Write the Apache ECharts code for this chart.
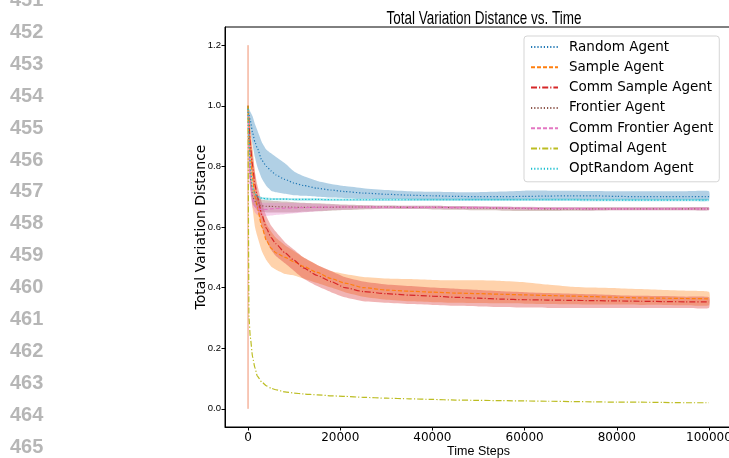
<!DOCTYPE html>
<html>
<head>
<meta charset="utf-8">
<script src="https://cdn.jsdelivr.net/npm/echarts@6/dist/echarts.min.js"></script>
<style>
  html, body { margin: 0; padding: 0; background: #fff; }
  #chart { width: 729px; height: 458px; }
</style>
</head>
<body>
<div id="chart"></div>
<script>
// page line numbers printed down the left margin
const lineNumbers = ['451', '452', '453', '454', '455', '456', '457', '458', '459', '460', '461', '462', '463', '464', '465']

const xTicks = [0, 20000, 40000, 60000, 80000, 100000]
const yTicks = [0, 0.2, 0.4, 0.6, 0.8, 1.0, 1.2]

const steps = [0, 200, 500, 1000, 1500, 2000, 3000, 4000, 5000, 6000, 8000, 10000, 12000, 15000, 18000, 21000,
  25000, 30000, 35000, 40000, 45000, 50000, 55000, 60000, 65000, 70000, 75000, 80000, 85000, 90000, 95000, 100000]

const randomMean = [0.99, 0.97, 0.95, 0.91, 0.88, 0.86, 0.82, 0.80, 0.785, 0.772, 0.757, 0.745, 0.737, 0.728, 0.722, 0.717,
  0.712, 0.708, 0.705, 0.703, 0.701, 0.700, 0.700, 0.701, 0.702, 0.703, 0.703, 0.701, 0.700, 0.700, 0.700, 0.700]
const randomUpper = [1.0, 0.99, 0.98, 0.965, 0.94, 0.92, 0.88, 0.855, 0.843, 0.832, 0.81, 0.783, 0.768, 0.752, 0.742, 0.735,
  0.728, 0.722, 0.718, 0.716, 0.715, 0.715, 0.717, 0.72, 0.72, 0.72, 0.719, 0.718, 0.718, 0.718, 0.718, 0.718]
const randomLower = [0.98, 0.95, 0.92, 0.87, 0.83, 0.80, 0.76, 0.735, 0.72, 0.715, 0.71, 0.705, 0.703, 0.70, 0.697, 0.695,
  0.693, 0.692, 0.691, 0.69, 0.69, 0.689, 0.689, 0.69, 0.69, 0.69, 0.69, 0.69, 0.69, 0.69, 0.69, 0.69]

const sampleMean = [1.0, 0.93, 0.84, 0.76, 0.70, 0.665, 0.60, 0.555, 0.53, 0.515, 0.50, 0.485, 0.47, 0.45, 0.43, 0.415,
  0.40, 0.392, 0.388, 0.385, 0.382, 0.38, 0.378, 0.376, 0.374, 0.372, 0.37, 0.368, 0.366, 0.365, 0.364, 0.363]
const sampleUpper = [1.0, 0.99, 0.93, 0.86, 0.78, 0.72, 0.65, 0.61, 0.585, 0.565, 0.54, 0.52, 0.50, 0.475, 0.455, 0.445,
  0.435, 0.43, 0.428, 0.425, 0.424, 0.424, 0.422, 0.418, 0.41, 0.403, 0.40, 0.398, 0.395, 0.392, 0.39, 0.386]
const sampleLower = [1.0, 0.87, 0.75, 0.66, 0.60, 0.57, 0.52, 0.49, 0.47, 0.46, 0.445, 0.44, 0.43, 0.415, 0.40, 0.385,
  0.37, 0.36, 0.355, 0.352, 0.35, 0.349, 0.348, 0.347, 0.346, 0.345, 0.344, 0.344, 0.343, 0.343, 0.342, 0.342]
// spread of the sample runs at step 0
const sampleStart = [0.0, 1.2]

const commSampleMean = [1.0, 0.94, 0.87, 0.80, 0.74, 0.70, 0.64, 0.595, 0.565, 0.545, 0.515, 0.49, 0.465, 0.44, 0.42, 0.40,
  0.387, 0.38, 0.375, 0.372, 0.368, 0.365, 0.362, 0.36, 0.359, 0.358, 0.357, 0.356, 0.355, 0.354, 0.353, 0.353]
const commSampleUpper = [1.0, 0.97, 0.91, 0.84, 0.78, 0.74, 0.68, 0.635, 0.605, 0.585, 0.55, 0.525, 0.50, 0.475, 0.455, 0.435,
  0.42, 0.41, 0.405, 0.40, 0.396, 0.392, 0.388, 0.385, 0.382, 0.38, 0.378, 0.375, 0.373, 0.372, 0.37, 0.368]
const commSampleLower = [1.0, 0.91, 0.83, 0.76, 0.70, 0.66, 0.60, 0.555, 0.525, 0.505, 0.48, 0.455, 0.43, 0.405, 0.385, 0.368,
  0.355, 0.35, 0.346, 0.343, 0.34, 0.338, 0.336, 0.334, 0.333, 0.333, 0.333, 0.333, 0.333, 0.333, 0.333, 0.333]

const frontierMean = [0.99, 0.88, 0.76, 0.70, 0.685, 0.675, 0.67, 0.668, 0.668, 0.667, 0.666, 0.665, 0.665, 0.665, 0.665, 0.666,
  0.666, 0.666, 0.665, 0.665, 0.664, 0.663, 0.662, 0.661, 0.66, 0.66, 0.66, 0.66, 0.66, 0.66, 0.66, 0.66]
const frontierUpper = [1.0, 0.9, 0.79, 0.725, 0.705, 0.695, 0.69, 0.688, 0.687, 0.686, 0.684, 0.682, 0.68, 0.678, 0.676, 0.674,
  0.672, 0.671, 0.67, 0.67, 0.669, 0.668, 0.667, 0.666, 0.665, 0.665, 0.665, 0.665, 0.665, 0.665, 0.665, 0.665]
const frontierLower = [0.98, 0.86, 0.73, 0.675, 0.665, 0.655, 0.65, 0.648, 0.648, 0.648, 0.648, 0.648, 0.65, 0.652, 0.654, 0.656,
  0.658, 0.66, 0.659, 0.658, 0.657, 0.655, 0.654, 0.653, 0.653, 0.654, 0.654, 0.655, 0.655, 0.655, 0.655, 0.655]

const commFrontierMean = [0.99, 0.85, 0.74, 0.69, 0.67, 0.66, 0.658, 0.658, 0.66, 0.661, 0.662, 0.663, 0.664, 0.665, 0.666, 0.666,
  0.666, 0.665, 0.665, 0.665, 0.664, 0.664, 0.663, 0.662, 0.661, 0.661, 0.66, 0.66, 0.66, 0.66, 0.66, 0.66]
const commFrontierUpper = [1.0, 0.87, 0.77, 0.715, 0.695, 0.685, 0.68, 0.68, 0.68, 0.68, 0.68, 0.679, 0.678, 0.676, 0.674, 0.672,
  0.671, 0.67, 0.67, 0.67, 0.669, 0.669, 0.668, 0.667, 0.666, 0.666, 0.665, 0.665, 0.665, 0.665, 0.665, 0.665]
const commFrontierLower = [0.98, 0.83, 0.71, 0.665, 0.648, 0.64, 0.637, 0.637, 0.638, 0.64, 0.642, 0.645, 0.648, 0.652, 0.656, 0.658,
  0.66, 0.66, 0.66, 0.66, 0.659, 0.659, 0.658, 0.657, 0.656, 0.656, 0.655, 0.655, 0.655, 0.655, 0.655, 0.655]

const optimalMean = [1.0, 0.30, 0.235, 0.17, 0.135, 0.108, 0.088, 0.076, 0.068, 0.063, 0.056, 0.052, 0.049, 0.046, 0.043, 0.041,
  0.038, 0.035, 0.033, 0.031, 0.029, 0.028, 0.027, 0.026, 0.025, 0.024, 0.023, 0.022, 0.022, 0.021, 0.02, 0.02]

const optRandomMean = [0.99, 0.90, 0.80, 0.73, 0.71, 0.70, 0.695, 0.693, 0.692, 0.692, 0.692, 0.691, 0.691, 0.691, 0.69, 0.69,
  0.69, 0.69, 0.69, 0.69, 0.69, 0.69, 0.69, 0.69, 0.69, 0.69, 0.689, 0.689, 0.689, 0.689, 0.689, 0.689]
const optRandomUpper = optRandomMean.map(v => v + 0.004)
const optRandomLower = optRandomMean.map(v => v - 0.004)

const agents = [
  { name: 'Random Agent', color: '#1f77b4', dash: [1.2, 2], mean: randomMean, upper: randomUpper, lower: randomLower },
  { name: 'Sample Agent', color: '#ff7f0e', dash: [4, 2], mean: sampleMean, upper: sampleUpper, lower: sampleLower },
  { name: 'Comm Sample Agent', color: '#d62728', dash: [6, 2, 1.2, 2], mean: commSampleMean, upper: commSampleUpper, lower: commSampleLower },
  { name: 'Frontier Agent', color: '#8c564b', dash: [1.2, 2], mean: frontierMean, upper: frontierUpper, lower: frontierLower },
  { name: 'Comm Frontier Agent', color: '#e377c2', dash: [4, 2], mean: commFrontierMean, upper: commFrontierUpper, lower: commFrontierLower },
  { name: 'Optimal Agent', color: '#bcbd22', dash: [6, 2, 1.2, 2], mean: optimalMean },
  { name: 'OptRandom Agent', color: '#17becf', dash: [1.2, 2], mean: optRandomMean, upper: optRandomUpper, lower: optRandomLower },
]

const sans = '"Liberation Sans", Arial, sans-serif'
const dejavu = '"DejaVu Sans", sans-serif'

// shaded std band: one polygon through the upper edge and back along the lower edge
function bandSeries(a) {
  return {
    type: 'custom',
    silent: true,
    data: steps.map((s, k) => [s, a.lower[k], a.upper[k]]),
    encode: { x: 0, y: [1, 2] },
    renderItem(params, api) {
      if (params.dataIndex !== 0) return
      const n = params.dataInsideLength
      const top = [], bottom = []
      for (let k = 0; k < n; k++) {
        top.push(api.coord([api.value(0, k), api.value(2, k)]))
        bottom.push(api.coord([api.value(0, k), api.value(1, k)]))
      }
      return {
        type: 'polygon',
        shape: { points: top.concat(bottom.reverse()), smooth: 0.15 },
        style: { fill: a.color, opacity: 0.35 },
      }
    },
  }
}

const series = []
agents.filter(a => a.upper).forEach(a => series.push(bandSeries(a)))
series.push({
  type: 'line', silent: true, symbol: 'none',
  data: sampleStart.map(v => [0, v]),
  lineStyle: { color: '#f0906f', width: 1 },
})
agents.forEach(a => series.push({
  name: a.name,
  type: 'line',
  symbol: 'none',
  smooth: 0.2,
  smoothMonotone: 'x',
  data: steps.map((s, k) => [s, a.mean[k]]),
  itemStyle: { color: a.color, opacity: 0 },
  lineStyle: { color: a.color, width: 1.2, type: a.dash },
}))

const chart = echarts.init(document.getElementById('chart'))
chart.setOption({
  animation: false,
  backgroundColor: '#fff',
  graphic: [
    {
      type: 'text', x: 484, y: 18.5, scaleX: 0.71, silent: true,
      style: { text: 'Total Variation Distance vs. Time', fill: '#000', font: '19px ' + sans, align: 'center', verticalAlign: 'middle' },
    },
    ...lineNumbers.map((t, i) => ({
      type: 'text', x: 10, y: 0.5 + i * 31.9, silent: true,
      style: { text: t, fill: '#b6b6b6', font: 'bold 20px ' + sans, verticalAlign: 'middle' },
    })),
  ],
  legend: {
    data: agents.map(a => a.name),
    orient: 'vertical',
    left: 524, top: 36,
    padding: [4, 6, 6, 6],
    itemWidth: 27, itemHeight: 14, itemGap: 6.3,
    backgroundColor: '#fff',
    borderColor: '#d5d5d5', borderWidth: 1, borderRadius: 3,
    itemStyle: { opacity: 0 },
    textStyle: { fontFamily: dejavu, fontSize: 13.5, color: '#000', padding: [0, 0, 0, 6] },
  },
  grid: { left: 225, top: 27, width: 507, height: 400, outerBoundsMode: 'none', show: true, borderColor: '#000', borderWidth: 1 },
  xAxis: {
    type: 'value', min: -5000, max: 105000,
    name: 'Time Steps', nameLocation: 'middle', nameGap: 18, nameMoveOverlap: false,
    nameTextStyle: { fontFamily: sans, fontSize: 12.5, color: '#000' },
    axisLine: { onZero: false, lineStyle: { color: '#000', width: 1 } },
    axisTick: { length: 3.5, lineStyle: { color: '#000' }, customValues: xTicks },
    axisLabel: { customValues: xTicks, margin: 5, fontFamily: dejavu, fontSize: 12, color: '#000', formatter: v => String(v) },
    splitLine: { show: false },
  },
  yAxis: {
    type: 'value', min: -0.06, max: 1.26,
    name: 'Total Variation Distance', nameLocation: 'middle', nameGap: 16.5, nameMoveOverlap: false,
    nameTextStyle: { fontFamily: dejavu, fontSize: 14, color: '#000' },
    axisLine: { show: true, onZero: false, lineStyle: { color: '#000', width: 1 } },
    axisTick: { show: true, length: 3.5, lineStyle: { color: '#000' }, customValues: yTicks },
    axisLabel: { customValues: yTicks, margin: 4, fontFamily: sans, fontSize: 9.5, color: '#000', formatter: v => v.toFixed(1) },
    splitLine: { show: false },
  },
  series,
})
</script>
</body>
</html>
